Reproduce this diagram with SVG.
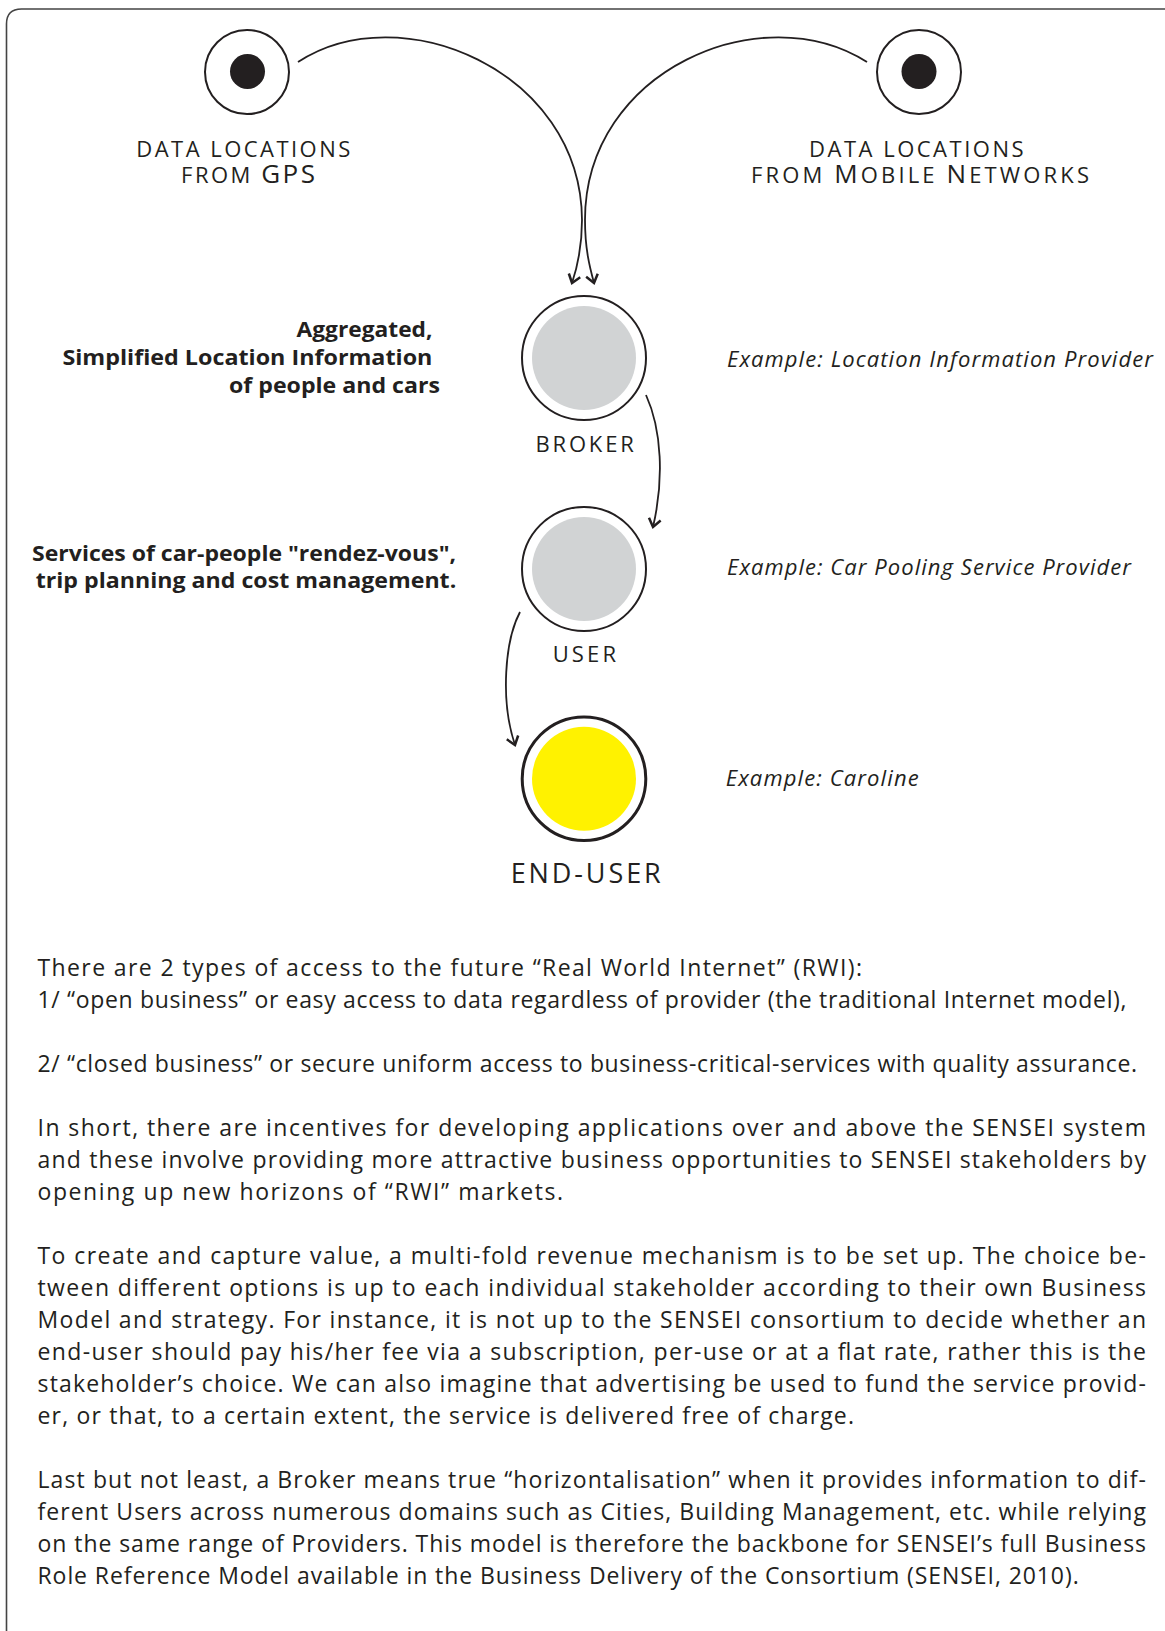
<svg xmlns="http://www.w3.org/2000/svg" width="1165" height="1631" viewBox="0 0 1165 1631">
<style>
.ink{fill:#231F20}
.sc{font-family:"Open Sans","Liberation Sans",sans-serif;font-size:22px;fill:#231F20}
.big{font-size:26px}
.lbl{font-family:"Open Sans","Liberation Sans",sans-serif;font-size:21px;font-weight:bold;fill:#231F20}
.ex{font-family:"Open Sans","Liberation Sans",sans-serif;font-size:22px;font-style:italic;fill:#231F20}
.body{font-family:"Open Sans","Liberation Sans",sans-serif;font-size:23px;fill:#231F20}
.ring{fill:#fff;stroke:#231F20;stroke-width:2}
.conn{fill:none;stroke:#231F20;stroke-width:1.8}
</style>
<defs>
<marker id="ah" viewBox="-10 -8 12 16" refX="0" refY="0" markerWidth="12" markerHeight="16" markerUnits="userSpaceOnUse" orient="auto" overflow="visible">
<path d="M-8,-6 L0,0 L-8,6" fill="none" stroke="#231F20" stroke-width="2.5"/>
</marker>
</defs>
<rect width="1165" height="1631" fill="#fff"/>
<path d="M6.5,1631 L6.5,24 Q6.5,9 21.5,9 L1165,9" fill="none" stroke="#444" stroke-width="1.6"/>

<g id="connectors">
<path class="conn" d="M298,62 C400,-5 581,70 582,220 C582,250 577,268 572,283" marker-end="url(#ah)"/>
<path class="conn" d="M867,62 C762,-5 585,70 585,220 C585,250 590,268 594,283" marker-end="url(#ah)"/>
<path class="conn" d="M646,395 C662,430 664,480 653,527" marker-end="url(#ah)"/>
<path class="conn" d="M520,612 C505,640 500,700 515,745" marker-end="url(#ah)"/>
</g>

<g id="gps">
<circle class="ring" cx="247" cy="72" r="42"/>
<circle class="ink" cx="247.5" cy="71.5" r="17.5"/>
<text class="sc" x="136.3" y="157.3" textLength="214" lengthAdjust="spacing">DATA LOCATIONS</text>
<text class="sc" x="181" y="183.3" textLength="134" lengthAdjust="spacing">FROM <tspan class="big">GPS</tspan></text>
</g>

<g id="mobile">
<circle class="ring" cx="919" cy="72" r="42"/>
<circle class="ink" cx="919" cy="71.5" r="17.5"/>
<text class="sc" x="809" y="157.3" textLength="214.6" lengthAdjust="spacing">DATA LOCATIONS</text>
<text class="sc" x="751" y="183.3" textLength="338" lengthAdjust="spacing">FROM <tspan class="big">M</tspan>OBILE <tspan class="big">N</tspan>ETWORKS</text>
</g>

<g id="broker">
<circle class="ring" cx="584" cy="358" r="62"/>
<circle cx="584" cy="358" r="52" fill="#D1D3D4"/>
<text class="sc" x="535.5" y="451.7" textLength="98.3" lengthAdjust="spacing">BROKER</text>
<text class="lbl" x="296.5" y="336.5" textLength="136" lengthAdjust="spacingAndGlyphs">Aggregated,</text>
<text class="lbl" x="62.4" y="365" textLength="370" lengthAdjust="spacingAndGlyphs">Simplified Location Information</text>
<text class="lbl" x="229" y="393.3" textLength="211" lengthAdjust="spacingAndGlyphs">of people and cars</text>
<text class="ex" x="727" y="366.7" textLength="426" lengthAdjust="spacing">Example: Location Information Provider</text>
</g>

<g id="user">
<circle class="ring" cx="584" cy="569" r="62"/>
<circle cx="584" cy="569" r="52" fill="#D1D3D4"/>
<text class="sc" x="552.7" y="661.5" textLength="63.3" lengthAdjust="spacing">USER</text>
<text class="lbl" x="32.1" y="560.7" textLength="424" lengthAdjust="spacingAndGlyphs">Services of car-people "rendez-vous",</text>
<text class="lbl" x="35.7" y="588" textLength="420.6" lengthAdjust="spacingAndGlyphs">trip planning and cost management.</text>
<text class="ex" x="727" y="575" textLength="404" lengthAdjust="spacing">Example: Car Pooling Service Provider</text>
</g>

<g id="end-user">
<circle cx="584" cy="778.7" r="61.8" fill="#fff" stroke="#231F20" stroke-width="3"/>
<circle cx="584" cy="778.7" r="52" fill="#FFF200"/>
<text class="sc" x="510.7" y="882.7" textLength="150" lengthAdjust="spacing" style="font-size:27px">END-USER</text>
<text class="ex" x="725.7" y="785.7" textLength="193" lengthAdjust="spacing">Example: Caroline</text>
</g>

<g id="body-text" class="body">
<text x="37.5" y="976.4" textLength="824.5" lengthAdjust="spacing">There are 2 types of access to the future “Real World Internet” (RWI):</text>
<text x="37.5" y="1008.4" textLength="1089" lengthAdjust="spacing">1/ “open business” or easy access to data regardless of provider (the traditional Internet model),</text>
<text x="37.5" y="1072.3" textLength="1099.5" lengthAdjust="spacing">2/ “closed business” or secure uniform access to business-critical-services with quality assurance.</text>
<text x="37.5" y="1136.3" textLength="1108.5" lengthAdjust="spacing">In short, there are incentives for developing applications over and above the SENSEI system</text>
<text x="37.5" y="1168.2" textLength="1108.5" lengthAdjust="spacing">and these involve providing more attractive business opportunities to SENSEI stakeholders by</text>
<text x="37.5" y="1200.2" textLength="525.5" lengthAdjust="spacing">opening up new horizons of “RWI” markets.</text>
<text x="37.5" y="1264.1" textLength="1108.5" lengthAdjust="spacing">To create and capture value, a multi-fold revenue mechanism is to be set up. The choice be-</text>
<text x="37.5" y="1296.1" textLength="1108.5" lengthAdjust="spacing">tween different options is up to each individual stakeholder according to their own Business</text>
<text x="37.5" y="1328.1" textLength="1108.5" lengthAdjust="spacing">Model and strategy. For instance, it is not up to the SENSEI consortium to decide whether an</text>
<text x="37.5" y="1360" textLength="1108.5" lengthAdjust="spacing">end-user should pay his/her fee via a subscription, per-use or at a flat rate, rather this is the</text>
<text x="37.5" y="1392" textLength="1108.5" lengthAdjust="spacing">stakeholder’s choice. We can also imagine that advertising be used to fund the service provid-</text>
<text x="37.5" y="1424" textLength="816.5" lengthAdjust="spacing">er, or that, to a certain extent, the service is delivered free of charge.</text>
<text x="37.5" y="1487.9" textLength="1108.5" lengthAdjust="spacing">Last but not least, a Broker means true “horizontalisation” when it provides information to dif-</text>
<text x="37.5" y="1519.9" textLength="1108.5" lengthAdjust="spacing">ferent Users across numerous domains such as Cities, Building Management, etc. while relying</text>
<text x="37.5" y="1551.9" textLength="1108.5" lengthAdjust="spacing">on the same range of Providers. This model is therefore the backbone for SENSEI’s full Business</text>
<text x="37.5" y="1583.8" textLength="1041.2" lengthAdjust="spacing">Role Reference Model available in the Business Delivery of the Consortium (SENSEI, 2010).</text>
</g>
</svg>
